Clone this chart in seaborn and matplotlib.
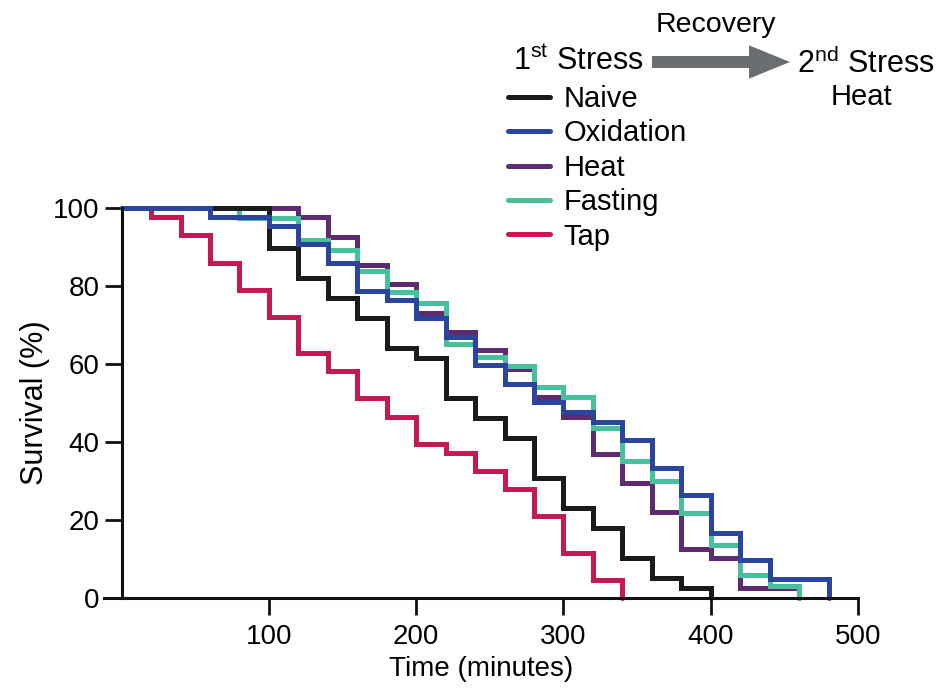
import matplotlib
matplotlib.use("Agg")
import matplotlib.pyplot as plt
from matplotlib.patches import FancyArrowPatch
import numpy as np
import pandas as pd
import seaborn as sns

# survival curves, step change points (time in minutes, survival in %)
naive_t = [0, 100, 120, 140, 160, 180, 200, 220, 240, 260, 280, 300, 320, 340, 360, 380, 400]
naive_s = [100, 89.7, 82.1, 76.9, 71.8, 64.1, 61.5, 51.3, 46.2, 41.0, 30.8, 23.1, 17.9, 10.3, 5.1, 2.6, 0]

oxid_t = [0, 60, 100, 120, 140, 160, 180, 200, 220, 240, 260, 280, 300, 320, 340, 360, 380, 400, 420, 440, 480]
oxid_s = [100, 97.7, 95.4, 90.8, 85.9, 78.7, 76.4, 71.7, 67.0, 59.8, 54.9, 50.3, 47.7, 45.1, 40.5, 33.3, 26.4, 16.7, 9.7, 4.9, 0]

heat_t = [0, 120, 140, 160, 180, 200, 220, 240, 260, 280, 300, 320, 340, 360, 380, 400, 420, 460]
heat_s = [100, 97.7, 92.6, 85.4, 80.5, 73.2, 68.2, 63.6, 58.7, 51.5, 46.5, 36.9, 29.5, 22.1, 12.6, 10.3, 2.6, 0]

fast_t = [0, 80, 120, 140, 160, 180, 200, 220, 240, 260, 280, 300, 320, 340, 360, 380, 400, 420, 440, 460]
fast_s = [100, 97.4, 91.8, 89.2, 83.8, 78.5, 75.7, 65.2, 61.8, 59.5, 54.1, 51.5, 43.6, 35.2, 30.0, 21.8, 13.6, 5.9, 3.1, 0]

tap_t = [0, 20, 40, 60, 80, 100, 120, 140, 160, 180, 200, 220, 240, 260, 280, 300, 320, 340]
tap_s = [100, 97.7, 93.0, 86.0, 79.1, 72.1, 62.8, 58.1, 51.2, 46.5, 39.5, 37.2, 32.6, 27.9, 20.9, 11.6, 4.7, 0]

groups = ["Naive", "Oxidation", "Heat", "Fasting", "Tap"]
colors = {"Naive": "#1b1b1f", "Oxidation": "#2b459f", "Heat": "#5e2a70",
          "Fasting": "#47c19d", "Tap": "#c31a51"}
# bottom to top drawing order
draw_order = ["Heat", "Fasting", "Naive", "Tap", "Oxidation"]

curves = {"Naive": (naive_t, naive_s), "Oxidation": (oxid_t, oxid_s),
          "Heat": (heat_t, heat_s), "Fasting": (fast_t, fast_s), "Tap": (tap_t, tap_s)}

frames = []
for name, (t, s) in curves.items():
    frames.append(pd.DataFrame({"Time": t, "Survival": s, "Group": name}))
df = pd.concat(frames, ignore_index=True)

sns.set_style("ticks")
plt.rcParams['font.family'] = ['Liberation Sans', 'DejaVu Sans']
plt.rcParams['mathtext.fontset'] = 'custom'
plt.rcParams['mathtext.rm'] = 'Liberation Sans'
plt.rcParams['text.color'] = 'black'
plt.rcParams['axes.labelcolor'] = 'black'
plt.rcParams['xtick.color'] = 'black'
plt.rcParams['ytick.color'] = 'black'

W, H = 936, 691
fig = plt.figure(figsize=(W / 100, H / 100), dpi=100)
ax = fig.add_axes([104 / W, 1 - 598 / H, (858 - 104) / W, (598 - 208) / H])

handles = {}
for name in draw_order:
    sub = df[df["Group"] == name]
    sns.lineplot(data=sub, x="Time", y="Survival", ax=ax, color=colors[name],
                 drawstyle="steps-post", linewidth=3.6, estimator=None,
                 label=name, clip_on=False, solid_joinstyle="miter")
    handles[name] = ax.get_lines()[-1]

ax.set_xlim(-12, 500)
ax.set_ylim(0, 100)
ax.spines['left'].set_position(('data', 0))
ax.spines['top'].set_visible(False)
ax.spines['right'].set_visible(False)
for sp in ['left', 'bottom']:
    ax.spines[sp].set_linewidth(2.2)
    ax.spines[sp].set_color('#111111')
ax.set_xticks([100, 200, 300, 400, 500])
ax.set_yticks([0, 20, 40, 60, 80, 100])
ax.tick_params(axis='both', length=12, width=2, color='#111111', pad=4)
ax.tick_params(axis='x', labelsize=20, pad=7)
ax.tick_params(axis='y', labelsize=20)
ax.set_xlabel("Time (minutes)", fontsize=20, labelpad=4)
ax.set_ylabel("Survival (%)", fontsize=22, labelpad=2)

ax.legend([handles[g] for g in groups], groups, loc='upper left',
          bbox_to_anchor=(508 / W, 1 - 85 / H), bbox_transform=fig.transFigure,
          frameon=False, borderpad=0, borderaxespad=0, handlelength=1.45,
          handletextpad=0.45, labelspacing=0.22, fontsize=21)

# header: 1st stress -> recovery -> 2nd stress
fig.text(513 / W, 1 - 62 / H, r"1$^{\mathrm{st}}$ Stress", fontsize=22, va='center', ha='left')
fig.text(716 / W, 1 - 25 / H, "Recovery", fontsize=20.5, va='center', ha='center')
fig.text(797 / W, 1 - 64 / H, r"2$^{\mathrm{nd}}$ Stress", fontsize=22, va='center', ha='left')
fig.text(861 / W, 1 - 97 / H, "Heat", fontsize=21, va='center', ha='center')
arrow = FancyArrowPatch((652 / W, 1 - 62 / H), (790 / W, 1 - 62 / H),
                        transform=fig.transFigure, shrinkA=0, shrinkB=0,
                        arrowstyle="simple,head_length=2.95,head_width=2.4,tail_width=0.86",
                        mutation_scale=10, color="#6b6e70", lw=0)
fig.patches.append(arrow)

fig.savefig("out.png", dpi=100)
